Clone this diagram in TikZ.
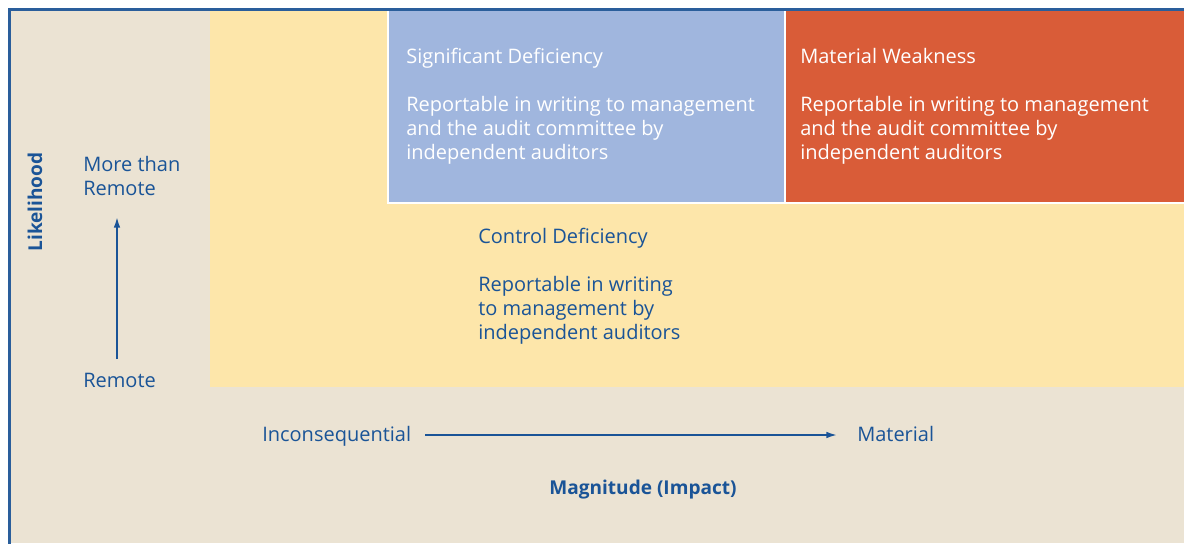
\documentclass[tikz,border=0pt]{standalone}
\usepackage{fontspec}
\setmainfont{Open Sans}
\usetikzlibrary{arrows.meta}
\definecolor{bgbeige}{HTML}{EBE3D3}
\definecolor{bgyellow}{HTML}{FDE6AA}
\definecolor{sigblue}{HTML}{A0B6DE}
\definecolor{matred}{HTML}{D95C38}
\definecolor{txtblue}{HTML}{1A5497}
\definecolor{frameblue}{HTML}{2A5E9B}
\tikzset{
  lbl/.style={anchor=base west, inner sep=0pt, align=left, font=\fontsize{15pt}{18pt}\selectfont, text=txtblue},
  whitelbl/.style={lbl, text=white},
  boldlbl/.style={inner sep=0pt, font=\fontsize{14.3pt}{16pt}\selectfont\bfseries, text=txtblue},
  axis/.style={draw=txtblue, line width=1.3pt, -{Latex[length=8pt,width=5pt]}},
  box/.style={draw=white, line width=1.5pt}
}
\begin{document}
\begin{tikzpicture}[x=0.75pt,y=-0.75pt]
\useasboundingbox (0,0) rectangle (1184,543);
\fill[white] (0,0) rectangle (1184,543);
\fill[bgbeige] (9,9) rectangle (1184,543);
\fill[bgyellow] (210,10) rectangle (1184,387);
\draw[box, fill=sigblue] (388,8) rectangle (784.5,203);
\draw[box, fill=matred] (784.5,8) rectangle (1186,203);
\draw[frameblue, line width=1.6pt] (9.5,545) -- (9.5,9.5) -- (1186,9.5);
% texts (base anchor = baseline of last line)
\node[whitelbl] (sd) at (406,159) {Significant Deficiency\\[18pt]Reportable in writing to management\\and the audit committee by\\independent auditors};
\node[whitelbl] (mw) at (800,159) {Material Weakness\\[18pt]Reportable in writing to management\\and the audit committee by\\independent auditors};
\node[lbl] (cd) at (478,339) {Control Deficiency\\[18pt]Reportable in writing\\to management by\\independent auditors};
\node[lbl] (mtr) at (83,195) {More than\\Remote};
\node[lbl] (rem) at (83,387) {Remote};
\node[lbl] (inc) at (262,441) {Inconsequential};
\node[lbl] (mat) at (857,441) {Material};
\node[boldlbl, rotate=90] (lik) at (35,202) {Likelihood};
\node[boldlbl] (mag) at (643,490) {Magnitude (Impact)};
\coordinate (vbot) at (117,359);
\coordinate (vtop) at (117,217);
\coordinate (hl) at (425,435);
\coordinate (hr) at (837,435);
\draw[axis] (vbot) -- (vtop);
\draw[axis] (hl) -- (hr);
\end{tikzpicture}
\end{document}
